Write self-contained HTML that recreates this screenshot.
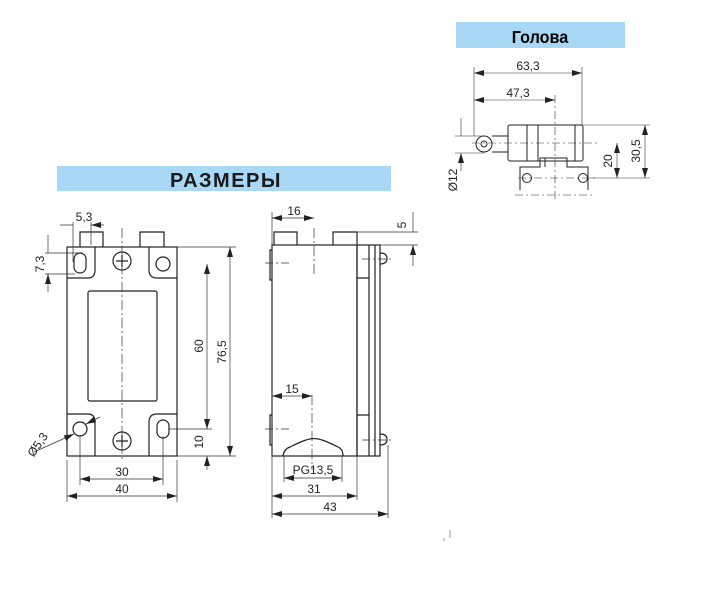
<!DOCTYPE html>
<html><head><meta charset="utf-8"><style>
body{margin:0;background:#fff;width:706px;height:600px;overflow:hidden}
svg{display:block}
text{font-family:"Liberation Sans",sans-serif;font-size:12px;fill:#222}
</style></head><body>
<svg width="706" height="600" viewBox="0 0 706 600" xmlns="http://www.w3.org/2000/svg">
<defs>
<marker id="a" viewBox="0 0 10 6" refX="10" refY="3" markerWidth="10" markerHeight="6" orient="auto-start-reverse" markerUnits="userSpaceOnUse"><path d="M0,0L10,3L0,6z" fill="#222"/></marker>
</defs>
<rect x="57" y="166" width="334" height="25" fill="#a8d8f5"/>
<text x="226" y="187" text-anchor="middle" style="font-size:20px;font-weight:bold;fill:#1a1a1a;letter-spacing:1.5px">РАЗМЕРЫ</text>
<rect x="456" y="22" width="169" height="26" fill="#a8d8f5"/>
<text x="540" y="43" text-anchor="middle" style="font-size:18px;font-weight:bold;fill:#000" transform="translate(540,0) scale(0.9,1) translate(-540,0)">Голова</text>

<g fill="none" stroke="#222" stroke-width="1.2">
<rect x="67" y="247" width="110" height="209"/>
<path d="M80,247V232H103V247M140,247V232H164V247"/>
<path d="M67,278H88Q95,278 95,270V247M177,278H157Q149,278 149,270V247M67,414H88Q95,414 95,422V456M177,414H157Q149,414 149,422V456"/>
<rect x="74" y="253" width="12" height="20" rx="6"/>
<circle cx="163" cy="264" r="7"/>
<circle cx="80" cy="429" r="7"/>
<rect x="157" y="420" width="12" height="18" rx="6"/>
<circle cx="122" cy="261" r="9"/><path d="M116,261h12M122,255v12"/>
<circle cx="122" cy="441" r="9"/><path d="M116,441h12M122,435v12"/>
<rect x="88" y="291" width="69" height="110" rx="2"/>
</g>
<g fill="none" stroke="#333" stroke-width="0.7">
<path d="M122,228V462" stroke-dasharray="10,3,2,3"/>
<path d="M73,222V262M91,222V245M45,253H80M45,274H75M177,247H236M169,429H212M177,456H236M80,436V485M163,436V485M67,460V502M177,460V502"/>
<path d="M60,225H73M104,225H91" marker-end="url(#a)"/>
<path d="M48,235V253M48,292V274" marker-end="url(#a)"/>
<path d="M207,264V429" marker-start="url(#a)" marker-end="url(#a)"/>
<path d="M230,247V456" marker-start="url(#a)" marker-end="url(#a)"/>
<path d="M207,470V456" marker-end="url(#a)"/>
<path d="M80,479H163" marker-start="url(#a)" marker-end="url(#a)"/>
<path d="M67,496H177" marker-start="url(#a)" marker-end="url(#a)"/>
<path d="M34,452L74,434" marker-end="url(#a)"/><path d="M100,417L86,424" marker-end="url(#a)"/>
</g>
<text x="84" y="221" text-anchor="middle">5,3</text>
<text transform="translate(44,264) rotate(-90)" text-anchor="middle">7,3</text>
<text transform="translate(203,346) rotate(-90)" text-anchor="middle">60</text>
<text transform="translate(226,352) rotate(-90)" text-anchor="middle">76,5</text>
<text transform="translate(203,442) rotate(-90)" text-anchor="middle">10</text>
<text transform="translate(41,447) rotate(-55)" text-anchor="middle">Ø5,3</text>
<text x="122" y="476" text-anchor="middle">30</text>
<text x="122" y="493" text-anchor="middle">40</text>

<g fill="none" stroke="#222" stroke-width="1.2">
<rect x="272" y="245" width="85" height="211"/>
<path d="M274,245V232H297V245M333,245V232H357V245"/>
<rect x="357" y="245" width="23" height="211"/>
<path d="M369,245V456M375,245V456"/>
<path d="M357,278H369M357,415H369"/>
<path d="M380,253q7,0 7,5.5q0,5.5 -7,5.5M380,434q7,0 7,5.5q0,5.5 -7,5.5"/>
<path d="M272,250h-2v30h2M272,415h-2v30h2"/>
<path d="M283,456Q284,449 290,447Q300,442 306,440Q314,437 322,440Q328,442 338,447Q343,449 343,456"/>
</g>
<g fill="none" stroke="#333" stroke-width="0.7">
<path d="M314,228V275M312,395V470" stroke-dasharray="10,3,2,3"/>
<path d="M265,263H290M265,429H290M362,259H394M362,440H394" stroke-dasharray="8,3,2,3"/>
<path d="M272,212V245M357,232H418M380,245H418M272,390V518M284,456V482M342,456V482M357,456V500M388,445V518"/>
<path d="M272,218H314" marker-start="url(#a)" marker-end="url(#a)"/>
<path d="M413,212V232M413,266V245" marker-end="url(#a)"/>
<path d="M272,396H312" marker-start="url(#a)" marker-end="url(#a)"/>
<path d="M284,478H342" marker-start="url(#a)" marker-end="url(#a)"/>
<path d="M272,496H357" marker-start="url(#a)" marker-end="url(#a)"/>
<path d="M272,514H388" marker-start="url(#a)" marker-end="url(#a)"/>
</g>
<text x="294" y="215" text-anchor="middle">16</text>
<text transform="translate(406,225) rotate(-90)" text-anchor="middle">5</text>
<text x="292" y="393" text-anchor="middle">15</text>
<text x="313" y="474" text-anchor="middle">PG13,5</text>
<text x="314" y="493" text-anchor="middle">31</text>
<text x="330" y="511" text-anchor="middle">43</text>

<g fill="none" stroke="#222" stroke-width="1">
<circle cx="484" cy="144" r="8"/><circle cx="484" cy="144" r="3"/>
<rect x="508" y="125" width="75" height="36" rx="2"/>
<path d="M492,136H508M492,152H508M527,125V161M538,125V161M575,125V161"/>
<path d="M520,190V167H540V158H567V167H588V190"/>
<path d="M545,158V167"/>
<circle cx="527" cy="178" r="4.5"/><circle cx="583" cy="178" r="4.5"/>
</g>
<g fill="none" stroke="#333" stroke-width="0.6">
<path d="M555,95V200M472,143H600M515,195H595M518,178H595" stroke-dasharray="8,3,2,3"/>
<path d="M474,67V136M582,67V125M455,136H484M455,153H484M583,125H650M590,178H650"/>
<path d="M474,73H582" marker-start="url(#a)" marker-end="url(#a)"/>
<path d="M474,100H555" marker-start="url(#a)" marker-end="url(#a)"/>
<path d="M461,118V136M461,171V153" marker-end="url(#a)"/>
<path d="M617,143V178" marker-start="url(#a)" marker-end="url(#a)"/>
<path d="M645,125V178" marker-start="url(#a)" marker-end="url(#a)"/>
</g>
<text x="528" y="70" text-anchor="middle">63,3</text>
<text x="518" y="97" text-anchor="middle">47,3</text>
<text transform="translate(457,180) rotate(-90)" text-anchor="middle">Ø12</text>
<text transform="translate(612,161) rotate(-90)" text-anchor="middle">20</text>
<text transform="translate(640,151) rotate(-90)" text-anchor="middle">30,5</text>
<path d="M450,530v8M444,538v3" stroke="#999" stroke-width="1"/>
</svg>
</body></html>
